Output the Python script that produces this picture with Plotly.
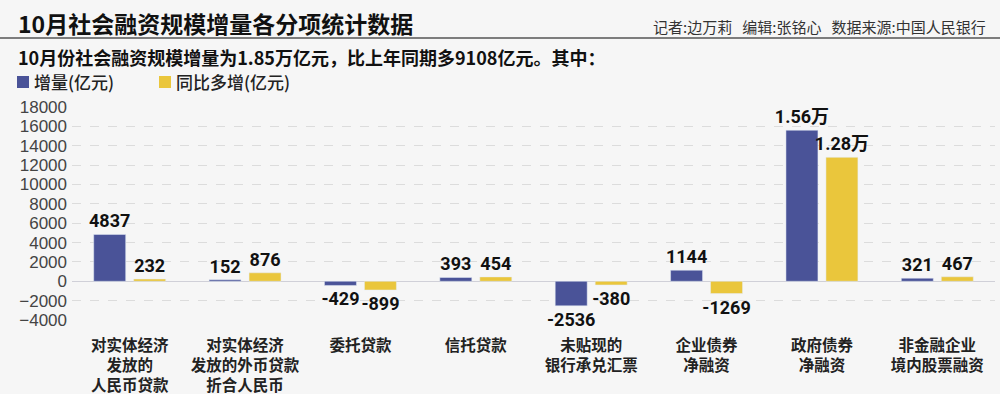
import plotly.graph_objects as go

categories = [
    "对实体经济<br>发放的<br>人民币贷款",
    "对实体经济<br>发放的外币贷款<br>折合人民币",
    "委托贷款",
    "信托贷款",
    "未贴现的<br>银行承兑汇票",
    "企业债券<br>净融资",
    "政府债券<br>净融资",
    "非金融企业<br>境内股票融资",
]
increase = [4837, 152, -429, 393, -2536, 1144, 15600, 321]
increase_labels = ["4837", "152", "-429", "393", "-2536", "1144", "1.56万", "321"]
yoy_more = [232, 876, -899, 454, -380, -1269, 12800, 467]
yoy_labels = ["232", "876", "-899", "454", "-380", "-1269", "1.28万", "467"]
series_names = ["增量(亿元)", "同比多增(亿元)"]
y_ticks = [-4000, -2000, 0, 2000, 4000, 6000, 8000, 10000, 12000, 14000, 16000, 18000]

BLUE = "#4a5398"
YELLOW = "#eac63c"
BG = "#f6f6f6"
CJK = "Noto Sans CJK SC"
NUM = "Roboto, Noto Sans CJK SC, sans-serif"

W, H = 1000, 394
ML, MR, MT, MB = 72, 5, 106, 73
PW, PH = W - ML - MR, H - MT - MB


def px_x(x):
    return (x - ML) / PW


def px_y(y):
    return 1 + (MT - y) / PH


fig = go.Figure()
for name, vals, labels, color in [
    (series_names[0], increase, increase_labels, BLUE),
    (series_names[1], yoy_more, yoy_labels, YELLOW),
]:
    fig.add_trace(go.Bar(
        x=categories, y=vals, name=name, marker_color=color,
        text=labels, textposition="outside", constraintext="none",
        cliponaxis=False,
        textfont=dict(family=NUM, size=18, color="#111", weight="bold"),
        hoverinfo="skip",
    ))

fig.update_layout(
    width=W, height=H,
    paper_bgcolor=BG, plot_bgcolor=BG,
    margin=dict(l=ML, r=MR, t=MT, b=MB),
    barmode="group", bargap=0.307, bargroupgap=0.2,
    font=dict(family=CJK, color="#222"),
    showlegend=False,
    xaxis=dict(
        showgrid=False, showline=False, ticks="",
        tickfont=dict(family=CJK, size=15.5, color="#222", weight="bold"),
        tickangle=0, ticklabelstandoff=13, automargin=False,
    ),
    yaxis=dict(
        range=[-4100, 18100], tickvals=y_ticks, tickformat="d",
        showgrid=True, gridcolor="#dcdcdc", griddash="dash", gridwidth=1,
        zeroline=True, zerolinecolor="#d0d0d8", zerolinewidth=1,
        showline=False, ticks="", automargin=False,
        tickfont=dict(family="Liberation Sans, Arial, sans-serif", size=17, color="#444"),
        ticklabelstandoff=4,
    ),
)

# Title, credits, subtitle
fig.add_annotation(
    text="<b>10月社会融资规模增量各分项统计数据</b>",
    xref="paper", yref="paper", x=px_x(16), y=px_y(23),
    xanchor="left", yanchor="middle", showarrow=False,
    font=dict(family=CJK, size=23, color="#111"),
)
fig.add_annotation(
    text="记者:边万莉&nbsp;&nbsp;&nbsp;编辑:张铭心&nbsp;&nbsp;&nbsp;数据来源:中国人民银行",
    xref="paper", yref="paper", x=px_x(988), y=px_y(26),
    xanchor="right", yanchor="middle", showarrow=False,
    font=dict(family=CJK, size=15, color="#333"),
)
fig.add_annotation(
    text="<b>10月份社会融资规模增量为1.85万亿元，比上年同期多9108亿元。其中：</b>",
    xref="paper", yref="paper", x=px_x(16), y=px_y(57),
    xanchor="left", yanchor="middle", showarrow=False,
    font=dict(family=CJK, size=18, color="#111"),
)
fig.add_shape(
    type="line", xref="paper", yref="paper",
    x0=px_x(0), x1=px_x(1000), y0=px_y(38), y1=px_y(38),
    line=dict(color="#555", width=1.5),
)

# Legend (manual)
for name, color, sx in [(series_names[0], BLUE, 17), (series_names[1], YELLOW, 159)]:
    fig.add_shape(
        type="rect", xref="paper", yref="paper",
        x0=px_x(sx), x1=px_x(sx + 12), y0=px_y(88), y1=px_y(76),
        fillcolor=color, line=dict(width=0),
    )
    fig.add_annotation(
        text=name, xref="paper", yref="paper", x=px_x(sx + 15), y=px_y(81),
        xanchor="left", yanchor="middle", showarrow=False,
        font=dict(family=CJK, size=17, color="#222", weight=500),
    )

fig.write_html(
    "out.html",
    config={"displayModeBar": False},
    post_script="document.body.style.margin='0';",
)
